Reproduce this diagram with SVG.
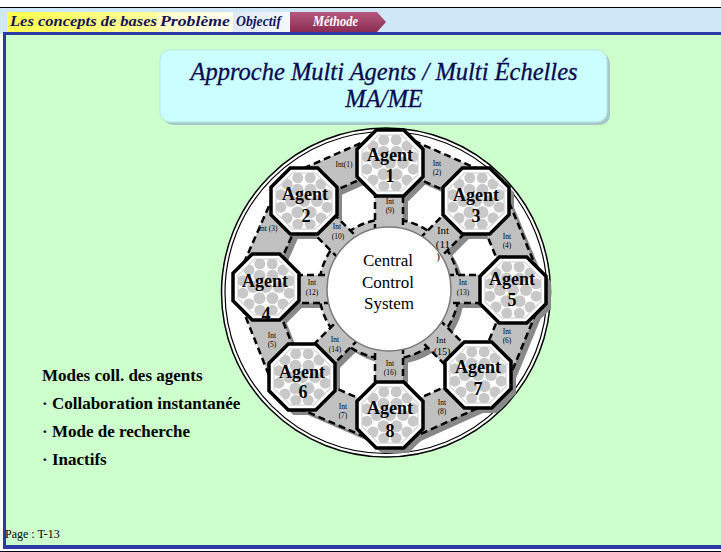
<svg xmlns="http://www.w3.org/2000/svg" width="721" height="552" viewBox="0 0 721 552">
<defs>
<style>
.tab{font-family:"Liberation Serif",serif;font-style:italic;font-weight:bold;font-size:15px;fill:#14145a}
.title{font-family:"Liberation Serif",serif;font-style:italic;font-size:24.5px;fill:#0a0a50;text-anchor:middle;stroke:#0a0a50;stroke-width:0.3}
.ag{font-family:"Liberation Serif",serif;font-weight:bold;font-size:18px;fill:#000;text-anchor:middle}
.int{font-family:"Liberation Serif",serif;font-size:7.5px;fill:#000;text-anchor:middle}
.intb{font-family:"Liberation Serif",serif;font-size:11px;fill:#000;text-anchor:middle}
.ccs{font-family:"Liberation Serif",serif;font-size:17px;fill:#000;text-anchor:middle}
.lst{font-family:"Liberation Serif",serif;font-weight:bold;font-size:17px;fill:#000}
.cell{fill:#c0c0c0;stroke:#000;stroke-width:2.5;stroke-dasharray:7 4}
.bar{fill:#2d3aa6}
</style>
<linearGradient id="g1" x1="0" x2="1" y1="0" y2="0"><stop offset="0" stop-color="#ffff4d"/><stop offset="1" stop-color="#ffffa0"/></linearGradient>
<linearGradient id="g2" x1="0" x2="1" y1="0" y2="0"><stop offset="0" stop-color="#ffffc4"/><stop offset="1" stop-color="#fffff0"/></linearGradient>
<linearGradient id="g3" x1="0" x2="1" y1="0" y2="0"><stop offset="0" stop-color="#dfe8f4"/><stop offset="1" stop-color="#f4f8fc"/></linearGradient>
<linearGradient id="g4" x1="0" x2="0" y1="0" y2="1"><stop offset="0" stop-color="#b45a7e"/><stop offset="1" stop-color="#8c2c52"/></linearGradient>
<path id="oct" d="M-13.7,-33H13.7L33,-13.7V13.7L13.7,33H-13.7L-33,13.7V-13.7Z"/>
<path id="octIn" d="M-11.6,-28H11.6L28,-11.6V11.6L11.6,28H-11.6L-28,11.6V-11.6Z"/>
<clipPath id="ocClip"><use href="#octIn"/></clipPath>
<path id="cellOut" d="M-34,-30H34L40,3H-40Z"/>
<path id="spoke" d="M58,-14H100V14H58Z"/>
<g id="agentShape">
 <use href="#oct" fill="#fff" stroke="#000" stroke-width="3.5"/>
 <use href="#octIn" fill="#fff" stroke="#dcdcdc" stroke-width="1.5"/>
 <g clip-path="url(#ocClip)" fill="#c8c8c8">
  <circle r="6"/>
  <circle cx="13" cy="0" r="6"/><circle cx="6.5" cy="11.3" r="6"/><circle cx="-6.5" cy="11.3" r="6"/>
  <circle cx="-13" cy="0" r="6"/><circle cx="-6.5" cy="-11.3" r="6"/><circle cx="6.5" cy="-11.3" r="6"/>
  <circle cx="23.2" cy="6.2" r="5.5"/><circle cx="17" cy="17" r="5.5"/><circle cx="6.2" cy="23.2" r="5.5"/>
  <circle cx="-6.2" cy="23.2" r="5.5"/><circle cx="-17" cy="17" r="5.5"/><circle cx="-23.2" cy="6.2" r="5.5"/>
  <circle cx="-23.2" cy="-6.2" r="5.5"/><circle cx="-17" cy="-17" r="5.5"/><circle cx="-6.2" cy="-23.2" r="5.5"/>
  <circle cx="6.2" cy="-23.2" r="5.5"/><circle cx="17" cy="-17" r="5.5"/><circle cx="23.2" cy="-6.2" r="5.5"/>
 </g>
</g>
</defs>

<!-- frame -->
<rect width="721" height="552" fill="#fff"/>
<rect x="0" y="8" width="721" height="26" fill="#cfe7f7"/>
<line x1="0" y1="7.5" x2="721" y2="7.5" stroke="#000" stroke-width="1"/>
<rect x="4" y="34" width="717" height="512" fill="#ccffcc"/>
<rect class="bar" x="3" y="32" width="718" height="3"/>
<rect class="bar" x="3" y="32" width="3" height="517"/>
<rect class="bar" x="3" y="545" width="718" height="4"/>
<rect x="0" y="551" width="721" height="1" fill="#001"/>

<!-- tabs -->
<g id="tabs">
 <rect x="7" y="12" width="151" height="20" fill="url(#g1)"/>
 <rect x="158" y="12" width="75" height="20" fill="url(#g2)"/>
 <rect x="233" y="12" width="57" height="20" fill="url(#g3)"/>
 <path d="M290,12H377L386,22L377,32H290Z" fill="url(#g4)"/>
 <text class="tab" x="10" y="26" textLength="147" lengthAdjust="spacingAndGlyphs">Les concepts de bases</text>
 <text class="tab" x="160" y="26" textLength="70" lengthAdjust="spacingAndGlyphs">Problème</text>
 <text class="tab" x="236" y="26" textLength="45" lengthAdjust="spacingAndGlyphs">Objectif</text>
 <text class="tab" x="313" y="26" textLength="45" lengthAdjust="spacingAndGlyphs" style="fill:#fff;font-size:14px">Méthode</text>
</g>

<!-- title -->
<g id="title">
 <rect x="163" y="53" width="447" height="72" rx="10" fill="#a8c8c8"/>
 <rect x="160" y="50" width="447" height="72" rx="10" fill="#ccffff" stroke="#b8e6e6"/>
 <text class="title" x="384" y="80">Approche Multi Agents / Multi Échelles</text>
 <text class="title" x="384" y="107">MA/ME</text>
</g>

<!-- outer circle -->
<g id="outer-circle">
 <circle cx="386" cy="292.5" r="164.5" fill="#fff" stroke="#000" stroke-width="1.5"/>
 <circle cx="386" cy="292.5" r="161" fill="none" stroke="#000" stroke-width="1.2"/>
</g>

<!-- shadows -->
<g id="shadow" fill="#888" transform="translate(5,5)">
 <circle cx="389" cy="289" r="70"/>
 <g transform="translate(389,289)">
  <use href="#spoke" transform="rotate(-90)"/><use href="#spoke" transform="rotate(-45)"/>
  <use href="#spoke" transform="rotate(0)"/><use href="#spoke" transform="rotate(45)"/>
  <use href="#spoke" transform="rotate(90)"/><use href="#spoke" transform="rotate(135)"/>
  <use href="#spoke" transform="rotate(180)"/><use href="#spoke" transform="rotate(-135)"/>
 </g>
 <use href="#cellOut" transform="translate(433,182) rotate(23.8)"/>
 <use href="#cellOut" transform="translate(494.5,245.5) rotate(67.4)"/>
 <use href="#cellOut" transform="translate(495.5,332.5) rotate(112.4)"/>
 <use href="#cellOut" transform="translate(434,395) rotate(155.6)"/>
 <use href="#cellOut" transform="translate(346,396) rotate(203.4)"/>
 <use href="#cellOut" transform="translate(284,332) rotate(248.2)"/>
 <use href="#cellOut" transform="translate(285,244) rotate(293.8)"/>
 <use href="#cellOut" transform="translate(347,182) rotate(336.2)"/>
 <use href="#oct" x="390" y="163"/><use href="#oct" x="304" y="201"/>
 <use href="#oct" x="476" y="201"/><use href="#oct" x="266" y="287"/>
 <use href="#oct" x="513" y="290"/><use href="#oct" x="302" y="377"/>
 <use href="#oct" x="478" y="375"/><use href="#oct" x="390" y="415"/>
</g>

<!-- interface cells -->
<g id="connectors">
 <circle id="ring" class="cell" cx="389" cy="289" r="70"/>
 <g transform="translate(389,289)">
  <use id="int9" class="cell" href="#spoke" transform="rotate(-90)"/>
  <use id="int11" class="cell" href="#spoke" transform="rotate(-45)"/>
  <use id="int13" class="cell" href="#spoke" transform="rotate(0)"/>
  <use id="int15" class="cell" href="#spoke" transform="rotate(45)"/>
  <use id="int16" class="cell" href="#spoke" transform="rotate(90)"/>
  <use id="int14" class="cell" href="#spoke" transform="rotate(135)"/>
  <use id="int12" class="cell" href="#spoke" transform="rotate(180)"/>
  <use id="int10" class="cell" href="#spoke" transform="rotate(-135)"/>
 </g>
 <use id="int2" class="cell" href="#cellOut" transform="translate(433,182) rotate(23.8)"/>
 <use id="int4" class="cell" href="#cellOut" transform="translate(494.5,245.5) rotate(67.4)"/>
 <use id="int6" class="cell" href="#cellOut" transform="translate(495.5,332.5) rotate(112.4)"/>
 <use id="int8" class="cell" href="#cellOut" transform="translate(434,395) rotate(155.6)"/>
 <use id="int7" class="cell" href="#cellOut" transform="translate(346,396) rotate(203.4)"/>
 <use id="int5" class="cell" href="#cellOut" transform="translate(284,332) rotate(248.2)"/>
 <use id="int3" class="cell" href="#cellOut" transform="translate(285,244) rotate(293.8)"/>
 <use id="int1" class="cell" href="#cellOut" transform="translate(347,182) rotate(336.2)"/>
</g>

<!-- central control system -->
<g id="ccs">
 <circle cx="389" cy="289" r="62" fill="#fff" stroke="#7a7a7a" stroke-width="1.5"/>
 <text class="ccs" x="388" y="266">Central</text>
 <text class="ccs" x="388" y="288">Control</text>
 <text class="ccs" x="389" y="309">System</text>
</g>

<!-- agents -->
<g id="agent1"><use href="#agentShape" x="390" y="163"/><text class="ag" x="390" y="161">Agent</text><text class="ag" x="390" y="182">1</text></g>
<g id="agent2"><use href="#agentShape" x="304" y="201"/><text class="ag" x="305" y="200">Agent</text><text class="ag" x="306" y="222">2</text></g>
<g id="agent3"><use href="#agentShape" x="476" y="201"/><text class="ag" x="476" y="201">Agent</text><text class="ag" x="476" y="222">3</text></g>
<g id="agent4"><use href="#agentShape" x="266" y="287"/><text class="ag" x="265" y="287">Agent</text><text class="ag" x="266" y="320">4</text></g>
<g id="agent5"><use href="#agentShape" x="513" y="290"/><text class="ag" x="512" y="285">Agent</text><text class="ag" x="512" y="306">5</text></g>
<g id="agent6"><use href="#agentShape" x="302" y="377"/><text class="ag" x="302" y="378">Agent</text><text class="ag" x="303" y="398">6</text></g>
<g id="agent7"><use href="#agentShape" x="478" y="375"/><text class="ag" x="478" y="373">Agent</text><text class="ag" x="478" y="395">7</text></g>
<g id="agent8"><use href="#agentShape" x="390" y="415"/><text class="ag" x="390" y="414">Agent</text><text class="ag" x="390" y="437">8</text></g>

<!-- interface labels -->
<g id="int-labels">
 <text class="int" x="344" y="167">Int(1)</text>
 <text class="int" x="437" y="166">Int</text><text class="int" x="437" y="175">(2)</text>
 <text class="int" x="268" y="231">Int (3)</text>
 <text class="int" x="507" y="239">Int</text><text class="int" x="507" y="248">(4)</text>
 <text class="int" x="272" y="338">Int</text><text class="int" x="272" y="347">(5)</text>
 <text class="int" x="507" y="334">Int</text><text class="int" x="507" y="343">(6)</text>
 <text class="int" x="343" y="409">Int</text><text class="int" x="343" y="418">(7)</text>
 <text class="int" x="442" y="405">Int</text><text class="int" x="442" y="414">(8)</text>
 <text class="int" x="390" y="204">Int</text><text class="int" x="390" y="213">(9)</text>
 <text class="int" x="337" y="229">Int</text><text class="int" x="338" y="239">(10)</text>
 <text class="intb" x="443" y="234">Int</text><text class="intb" x="443" y="248">(11</text><text class="intb" x="438" y="260">)</text>
 <text class="int" x="312" y="285">Int</text><text class="int" x="312" y="295">(12)</text>
 <text class="int" x="463" y="285">Int</text><text class="int" x="463" y="295">(13)</text>
 <text class="int" x="335" y="342">Int</text><text class="int" x="335" y="352">(14)</text>
 <text class="intb" x="441" y="343" style="font-size:9px">Int</text><text class="intb" x="442" y="355" style="font-size:10px">(15)</text>
 <text class="int" x="390" y="366">Int</text><text class="int" x="390" y="375">(16)</text>
</g>

<!-- left list -->
<g id="modes">
 <text class="lst" x="42" y="381">Modes coll. des agents</text>
 <text class="lst" x="42" y="409">· Collaboration instantanée</text>
 <text class="lst" x="42" y="437">· Mode de recherche</text>
 <text class="lst" x="42" y="465">· Inactifs</text>
</g>
<text x="5" y="538" style="font-family:'Liberation Serif',serif;font-size:12px;fill:#000">Page : T-13</text>
</svg>
